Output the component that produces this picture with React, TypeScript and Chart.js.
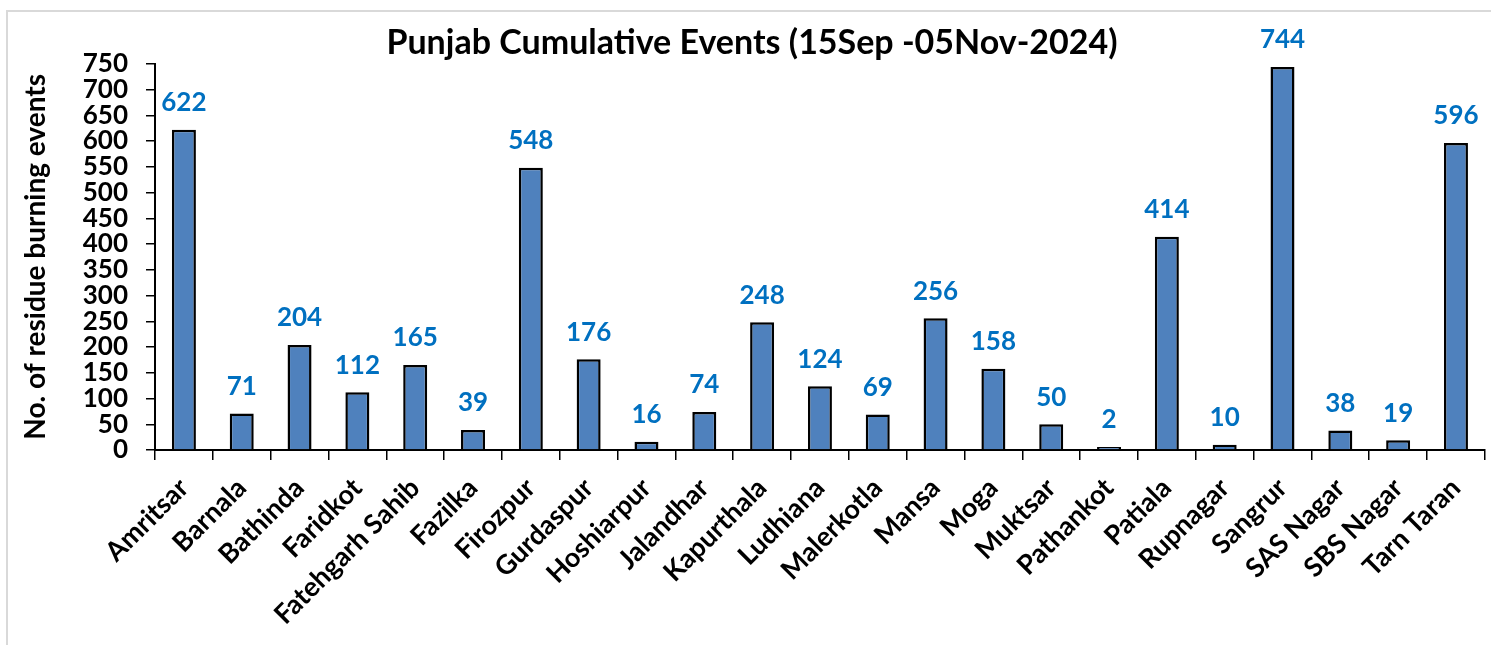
import React, { useEffect, useRef } from "react";
import { Chart, registerables } from "chart.js";

Chart.register(...registerables);

const districts = [
  "Amritsar", "Barnala", "Bathinda", "Faridkot", "Fatehgarh Sahib", "Fazilka",
  "Firozpur", "Gurdaspur", "Hoshiarpur", "Jalandhar", "Kapurthala", "Ludhiana",
  "Malerkotla", "Mansa", "Moga", "Muktsar", "Pathankot", "Patiala", "Rupnagar",
  "Sangrur", "SAS Nagar", "SBS Nagar", "Tarn Taran",
];
const events = [622, 71, 204, 112, 165, 39, 548, 176, 16, 74, 248, 124, 69, 256, 158, 50, 2, 414, 10, 744, 38, 19, 596];

const titleText = "Punjab Cumulative Events (15Sep -05Nov-2024)";
const yTitle = "No. of residue burning events";
const FONT = "Lato, 'Open Sans', sans-serif";

const valueLabels = {
  id: "valueLabels",
  afterDatasetsDraw(chart: any) {
    const ctx = chart.ctx;
    const meta = chart.getDatasetMeta(0);
    ctx.save();
    ctx.font = `bold 26px ${FONT}`;
    ctx.fillStyle = "#0070C0";
    ctx.textAlign = "center";
    ctx.textBaseline = "middle";
    meta.data.forEach((bar: any, i: number) => {
      ctx.fillText(String(events[i]), bar.x, bar.y - 27);
    });
    ctx.restore();
  },
};

export default function App() {
  const ref = useRef<HTMLCanvasElement>(null);
  useEffect(() => {
    if (!ref.current) return;
    const chart = new Chart(ref.current, {
      type: "bar",
      data: {
        labels: districts,
        datasets: [
          {
            data: events,
            backgroundColor: "#4F81BD",
            borderColor: "#000000",
            borderWidth: 2.5,
            barPercentage: 0.415,
            categoryPercentage: 1,
            minBarLength: 3,
          },
        ],
      },
      options: {
        animation: false,
        responsive: false,
        maintainAspectRatio: false,
        layout: { padding: { left: 19, right: 6, top: 0, bottom: 0 } },
        plugins: {
          legend: { display: false },
          tooltip: { enabled: false },
          title: {
            display: true,
            text: titleText,
            color: "#000000",
            font: { family: FONT, size: 34, weight: "bold" },
            padding: { top: 23, bottom: 0 },
          },
        },
        scales: {
          x: {
            offset: true,
            grid: {
              display: true,
              drawOnChartArea: false,
              drawTicks: true,
              tickLength: 10,
              color: "#000000",
              lineWidth: 1.5,
              offset: true,
            },
            border: { display: true, color: "#000000", width: 2 },
            ticks: {
              autoSkip: false,
              maxRotation: 45,
              minRotation: 45,
              padding: 12,
              color: "#000000",
              font: { family: FONT, size: 27, weight: "bold" },
            },
            afterFit: (scale: any) => {
              scale.height = 195;
            },
          },
          y: {
            min: 0,
            max: 750,
            ticks: {
              stepSize: 50,
              autoSkip: false,
              padding: 18,
              color: "#000000",
              font: { family: FONT, size: 26, weight: "bold" },
            },
            grid: {
              display: true,
              drawOnChartArea: false,
              drawTicks: true,
              tickLength: 9,
              color: "#000000",
              lineWidth: 1.5,
            },
            border: { display: true, color: "#000000", width: 2 },
            title: {
              display: true,
              text: yTitle,
              color: "#000000",
              font: { family: FONT, size: 28, weight: "bold" },
              padding: { top: 0, bottom: 0 },
            },
            afterFit: (scale: any) => {
              scale.width = 136;
            },
          },
        },
      },
      plugins: [valueLabels],
    });
    return () => chart.destroy();
  }, []);

  return (
    <div style={{ position: "fixed", left: 0, top: 0, width: 1491, height: 645, background: "#fff", overflow: "hidden" }}>
      <div
        style={{
          position: "absolute",
          left: 6,
          top: 10,
          width: 1600,
          height: 800,
          border: "2px solid #D9D9D9",
          boxSizing: "border-box",
        }}
      />
      <canvas ref={ref} width={1491} height={645} style={{ position: "absolute", left: 0, top: 0, display: "block" }} />
    </div>
  );
}
